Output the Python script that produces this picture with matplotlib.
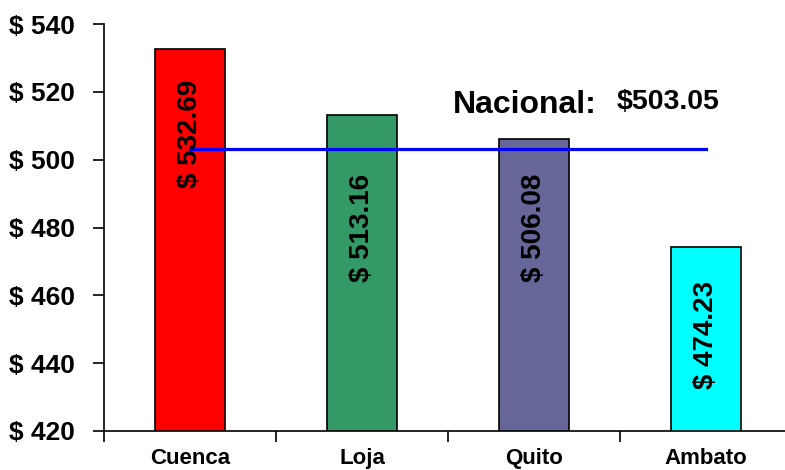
import numpy as np
import matplotlib.pyplot as plt

# data
cities = ['Cuenca', 'Loja', 'Quito', 'Ambato']
values = [532.69, 513.16, 506.08, 474.23]
colors = ['#FF0000', '#339966', '#666699', '#00FFFF']
nacional = 503.05
y_ticks = [420, 440, 460, 480, 500, 520, 540]

# how far below the bar top each value label starts (data units)
label_drop = [9.2, 17.3, 10.2, 10.1]

plt.rcParams['font.family'] = ['Liberation Sans', 'DejaVu Sans']
plt.rcParams['font.weight'] = 'bold'

fig = plt.figure(figsize=(7.85, 4.70), dpi=100)
ax = fig.add_axes([104/785, 39/470, 688/785, 407/470])

x = np.arange(len(cities))
ax.bar(x, values, width=0.41, bottom=0, color=colors, edgecolor='black', linewidth=1.2, zorder=2)

for xi, v, d in zip(x, values, label_drop):
    ax.text(xi, v - d, f'$ {v:.2f}', rotation=90, ha='center', va='top',
            fontsize=20, fontweight='bold', zorder=4)

ax.plot([x[0], x[-1]], [nacional, nacional], color='#0000FF', lw=2.3, zorder=3)
ax.text(1.53, 513.8, 'Nacional:', fontsize=23, fontweight='bold', ha='left', va='baseline')
ax.text(2.48, 515.0, f'${nacional:.2f}', fontsize=20.5, fontweight='bold', ha='left', va='baseline')

ax.set_ylim(420, 540)
ax.set_xlim(-0.5, len(cities) - 0.5)
ax.set_yticks(y_ticks)
ax.set_yticklabels([f'$ {t}' for t in y_ticks], fontsize=19, fontweight='bold')
ax.tick_params(axis='y', length=8, width=1.2, pad=13)

ax.set_xticks(np.arange(len(cities) + 1) - 0.5)
ax.set_xticklabels([])
ax.tick_params(axis='x', which='major', length=8, width=1.2)
ax.set_xticks(x, minor=True)
ax.set_xticklabels(cities, minor=True, fontsize=16, fontweight='bold')
ax.tick_params(axis='x', which='minor', length=0, pad=12)

for s in ['top', 'right']:
    ax.spines[s].set_visible(False)
for s in ['left', 'bottom']:
    ax.spines[s].set_linewidth(1.2)

fig.savefig('out.png', dpi=100)
